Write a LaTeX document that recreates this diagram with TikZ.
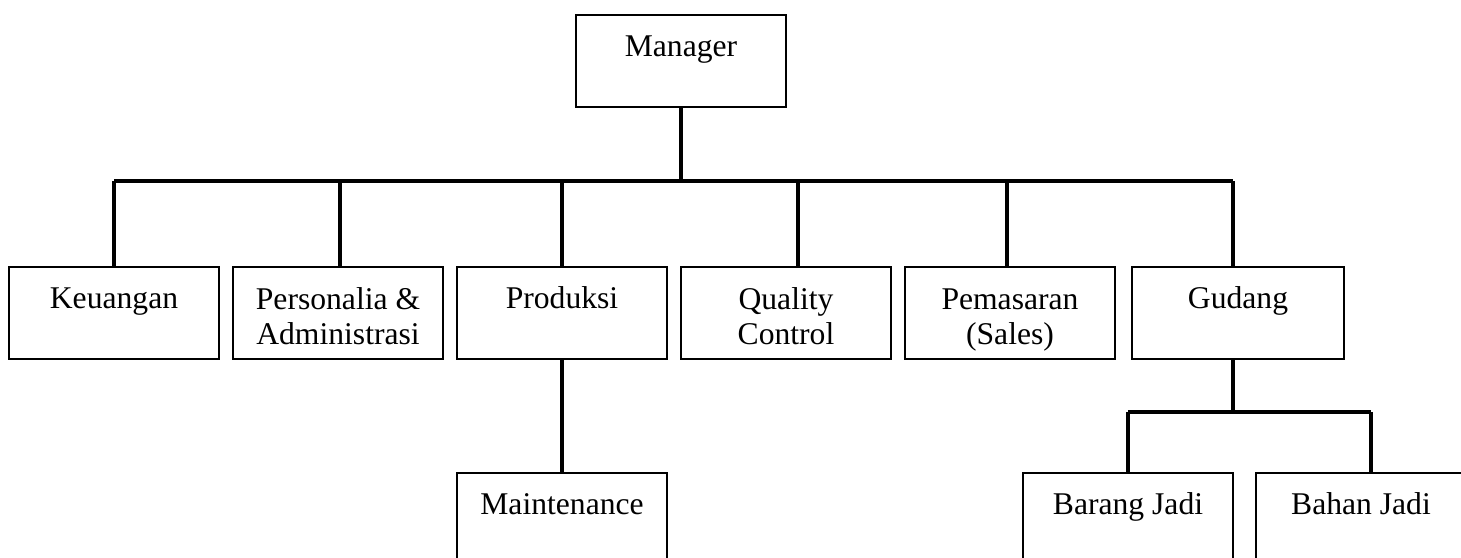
\documentclass[tikz,border=0pt]{standalone}
\usepackage{fontspec}
\setmainfont{Liberation Serif}
\usetikzlibrary{positioning}

\tikzset{
  unit/.style={draw, line width=1.1pt, anchor=north, inner sep=0pt,
    minimum width=4.2cm, align=center, text height=0.84cm, text depth=1cm,
    font=\fontsize{18}{20.4}\selectfont},
  twoline/.style={text height=1.56cm, text depth=0.28cm},
  link/.style={line width=2pt}
}

\begin{document}
\begin{tikzpicture}[x=0.02cm, y=-0.02cm]
    \useasboundingbox (0,0) rectangle (1461,558);
    \clip (0,0) rectangle (1461,558);
    % top
    \node[unit] (mgr) at (681,14) {Manager};
    \coordinate (bar) at (0,181);
    % divisions
    \node[unit] (keu) at (114,266) {Keuangan};
    \node[unit, twoline] (per) at (338,266) {Personalia \&\\Administrasi};
    \node[unit] (pro) at (562,266) {Produksi};
    \node[unit, twoline] (qc)  at (786,266) {Quality\\Control};
    \node[unit, twoline] (pem) at (1010,266) {Pemasaran\\(Sales)};
    \node[unit, minimum width=4.24cm] (gud) at (1238,266) {Gudang};
    % sub units
    \node[unit] (mnt) at (562,472) {Maintenance};
    \node[unit] (brg) at (1128,472) {Barang Jadi};
    \node[unit] (bhn) at (1361,472) {Bahan Jadi};
    \coordinate (sub) at (0,412);

    \draw[link] (mgr.south) -- (mgr.south |- bar);
    \draw[link] (keu.north |- bar) -- ([xshift=-0.1cm]gud.north |- bar);
    \draw[link] (keu.north) -- (keu.north |- bar);
    \draw[link] ([xshift=0.04cm]per.north) -- ([xshift=0.04cm]per.north |- bar);
    \draw[link] (pro.north) -- (pro.north |- bar);
    \draw[link] ([xshift=0.24cm]qc.north) -- ([xshift=0.24cm]qc.north |- bar);
    \draw[link] ([xshift=-0.06cm]pem.north) -- ([xshift=-0.06cm]pem.north |- bar);
    \draw[link] ([xshift=-0.1cm]gud.north) -- ([xshift=-0.1cm]gud.north |- bar);
    \draw[link] (pro.south) -- (mnt.north);
    \draw[link] ([xshift=-0.1cm]gud.south) -- ([xshift=-0.1cm]gud.south |- sub);
    \draw[link] (brg.north |- sub) -- ([xshift=0.2cm]bhn.north |- sub);
    \draw[link] (brg.north) -- (brg.north |- sub);
    \draw[link] ([xshift=0.2cm]bhn.north) -- ([xshift=0.2cm]bhn.north |- sub);
\end{tikzpicture}
\end{document}
